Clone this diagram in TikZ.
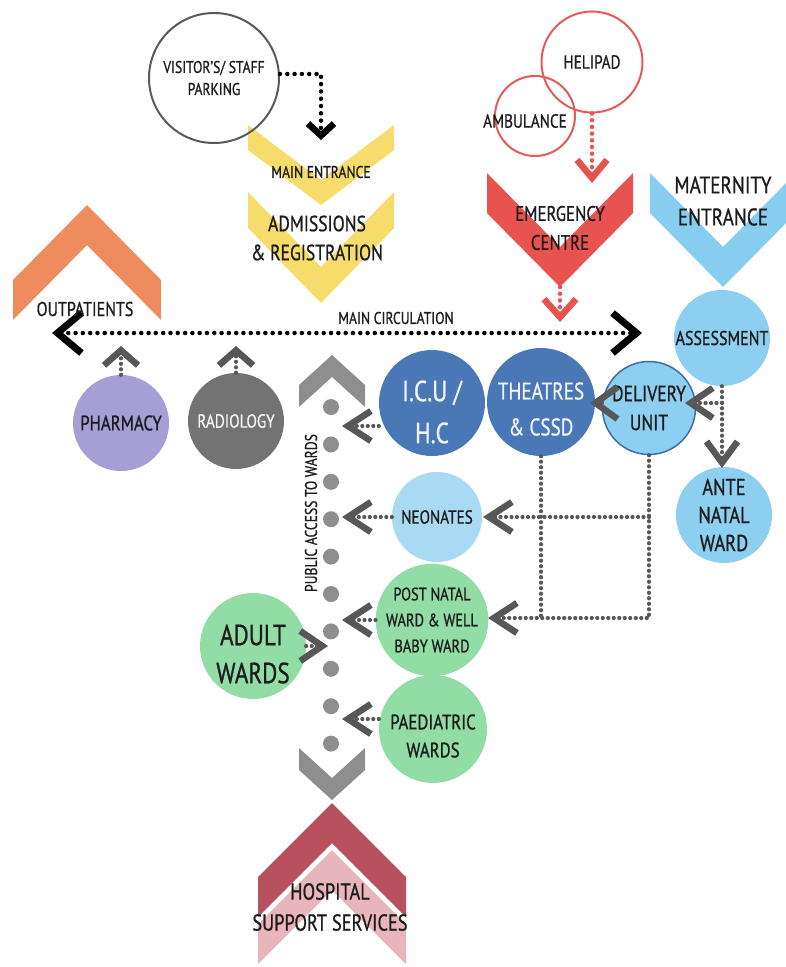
\documentclass[tikz,border=0pt]{standalone}
\usepackage{fontspec}
\setmainfont{PT Sans}[FakeStretch=0.8,FakeBold=0.8]
\usetikzlibrary{arrows.meta}

\definecolor{ink}{HTML}{1C1C1C}
\definecolor{sunyellow}{HTML}{F6DC6A}
\definecolor{outorange}{HTML}{EE8C5E}
\definecolor{emred}{HTML}{E8524F}
\definecolor{ringred}{HTML}{E25A5A}
\definecolor{matblue}{HTML}{86CDEF}
\definecolor{skyblue}{HTML}{8CCFF0}
\definecolor{paleblue}{HTML}{A8DAF4}
\definecolor{deepblue}{HTML}{4A78B7}
\definecolor{rimblue}{HTML}{3D6FA6}
\definecolor{mint}{HTML}{92DCA5}
\definecolor{lilac}{HTML}{A59FD6}
\definecolor{slate}{HTML}{737373}
\definecolor{pathgray}{HTML}{8E8E8E}
\definecolor{linkgray}{HTML}{575757}
\definecolor{wine}{HTML}{B6505D}
\definecolor{blush}{HTML}{E7B5BB}
\definecolor{ringgray}{HTML}{5A5A5A}
\definecolor{softwhite}{HTML}{F2F4F8}

\newcommand{\fsz}[2]{\fontsize{#1}{#2}\selectfont}
% chevron band: centre x, y of the side edges, half width, notch depth, thickness
\newcommand{\chev}[5]{({#1-#3},{#2}) -- ({#1},{#2+(#4)}) -- ({#1+#3},{#2})
  -- ({#1+#3},{#2+(#5)}) -- ({#1},{#2+(#4)+(#5)}) -- ({#1-#3},{#2+(#5)}) -- cycle}

\begin{document}
\begin{tikzpicture}[x=1pt,y=-1pt,
  lbl/.style={align=center, inner sep=0pt, text=ink},
  disc/.style={circle, fill=#1, inner sep=0pt, align=center, text=ink},
  ring/.style={circle, draw=#1, line width=2pt, inner sep=0pt, align=center, text=ink},
  dotk/.style={draw=black, line width=4.5pt, line cap=round, dash pattern=on 0pt off 7.3pt},
  dotr/.style={draw=emred, line width=4.5pt, line cap=round, dash pattern=on 0pt off 6.7pt},
  dotg/.style={draw=linkgray, line width=4.2pt, line cap=round, dash pattern=on 0pt off 5.5pt},
  head/.style 2 args={>={Straight Barb[sharp,length=#1,width=#2,line width=6.5pt]}},
]
\clip (0,0) rectangle (786,967);

% entrance chevrons
\fill[sunyellow] \chev{321}{125}{73}{55}{25};
\fill[sunyellow] \chev{321}{192}{73}{75}{36};
\fill[emred] \chev{560}{173}{73}{74}{40};
\fill[matblue] \chev{723}{173}{73}{74}{40};
\fill[outorange] \chev{87}{320}{74}{-75}{-40};

% public access spine
\fill[pathgray] \chev{332}{407}{33}{-30}{-22};
\fill[pathgray] \chev{332}{748}{33}{30}{22};
\foreach \i in {0,...,9}
  \fill[pathgray] (331,{407+37.4*\i}) circle[radius=8pt];

% support services chevrons
\fill[blush] \chev{332}{964}{74}{-74}{-40};
\fill[wine] \chev{332}{917}{74}{-74}{-40};

% rings
\node[ring=ringgray, minimum size=130pt, font=\fsz{17}{22}] (park) at (214,78) {VISITOR’S/ STAFF\\PARKING};
\node[ring=ringred, minimum size=80pt] (amb) at (535,116) {};
\node[ring=ringred, minimum size=101pt, font=\fsz{19}{24}] (heli) at (592,62) {HELIPAD};

% departments
\node[disc=lilac, minimum size=96pt, font=\fsz{21}{27}] (pharm) at (121,423) {PHARMACY};
\node[disc=slate, minimum size=96pt, font=\fsz{19}{25}, text=softwhite] (radio) at (236,421) {RADIOLOGY};
\node[disc=deepblue, minimum size=106pt] (icu) at (432,403) {};
\node[disc=deepblue, minimum size=108pt] (thea) at (541,402) {};
\node[disc=skyblue, draw=rimblue, line width=1.5pt, minimum size=93pt, font=\fsz{22}{29}] (deliv) at (649,408) {DELIVERY\\UNIT};
\node[disc=skyblue, minimum size=96pt, font=\fsz{20}{26}] (assess) at (722,338) {ASSESSMENT};
\node[disc=skyblue, minimum size=96pt, font=\fsz{23}{28}] (ante) at (724,515) {ANTE\\NATAL\\WARD};
\node[disc=paleblue, minimum size=90pt, font=\fsz{19}{25}] (neo) at (437,517) {NEONATES};
\node[disc=mint, minimum size=108pt, font=\fsz{18}{26}] (pn) at (432,620) {POST NATAL\\WARD \& WELL\\BABY WARD};
\node[disc=mint, minimum size=106pt] (adult) at (253,646) {};
\node[disc=mint, minimum size=108pt] (paed) at (433,729) {};

% connector ends
\coordinate (me-in) at (321,140);
\coordinate (em-in) at (592,183);
\coordinate (em-out) at (560,287);
\coordinate (mc-em) at (560,322);
\coordinate (mc-l) at (52,333);
\coordinate (mc-r) at (642,333);
\coordinate (ph-up) at (121,346);
\coordinate (rd-up) at (236,346);
\coordinate (pa-icu) at (342,426);
\coordinate (pa-neo) at (342,517);
\coordinate (pa-pn) at (342,620);
\coordinate (pa-ad) at (328,646);
\coordinate (pa-pd) at (342,719);
\coordinate (th-in) at (590,403);
\coordinate (dl-in) at (685,403);
\coordinate (an-in) at (722,468);
\coordinate (neo-in) at (483,517);
\coordinate (pn-in) at (488,618);

% connectors
\draw[dotk, head={12pt}{26pt}, ->] ([yshift=4pt]park.east) -| (me-in);
\draw[dotr, head={18pt}{30pt}, ->] (heli.south) -- (em-in);
\draw[dotr, head={18pt}{32pt}, ->] (em-out) -- (mc-em);
\draw[dotk, >={Straight Barb[sharp,length=24pt,width=40pt,line width=7pt]}, <->] (mc-l) -- (mc-r);
\draw[dotg, head={15pt}{34pt}, ->] (pharm.north) -- (ph-up);
\draw[dotg, head={15pt}{34pt}, ->] (radio.north) -- (rd-up);
\draw[dotg, head={23pt}{30pt}, ->] (icu.west |- pa-icu) -- (pa-icu);
\draw[dotg, head={22pt}{32pt}, ->] (deliv.west |- th-in) -- (th-in);
\draw[dotg, head={22pt}{30pt}, ->] (assess.south |- dl-in) -- (dl-in);
\draw[dotg, head={21pt}{31pt}, ->] (assess.south) -- (an-in);
\draw[dotg] (thea.south) -- (thea.south |- pn-in);
\draw[dotg, head={23pt}{30pt}, ->] (deliv.south) -- (deliv.south |- pn-in) -- (pn-in);
\draw[dotg, head={23pt}{30pt}, ->] (deliv.south |- neo-in) -- (neo-in);
\draw[dotg, head={23pt}{30pt}, ->] (neo.west) -- (pa-neo);
\draw[dotg, head={23pt}{30pt}, ->] (pn.west) -- (pa-pn);
\draw[dotg, head={22pt}{30pt}, ->] (adult.east) -- (pa-ad);
\draw[dotg, head={23pt}{30pt}, ->] (paed.west |- pa-pd) -- (pa-pd);

% labels
\node[lbl, font=\fsz{19}{24}] (amb-t) at (525,121) {AMBULANCE};
\node[lbl, font=\fsz{17}{22}] (me-t) at (321,172) {MAIN ENTRANCE};
\node[lbl, font=\fsz{22}{29}] (adm-t) at (317,238) {ADMISSIONS\\\& REGISTRATION};
\node[lbl, font=\fsz{21}{29}] (em-t) at (560,228) {EMERGENCY\\CENTRE};
\node[lbl, font=\fsz{24}{32}] (mat-t) at (723,201) {MATERNITY\\ENTRANCE};
\node[lbl, font=\fsz{20}{26}] (out-t) at (85,309) {OUTPATIENTS};
\node[lbl, font=\fsz{17}{22}] (mc-t) at (396,318) {MAIN CIRCULATION};
\node[lbl, font=\fsz{17}{20}, rotate=90] (pub-t) at (311,513) {PUBLIC ACCESS TO WARDS};
\node[lbl, font=\fsz{29}{42}, text=softwhite] (icu-t) at (432,412) {I.C.U /\\H.C};
\node[lbl, font=\fsz{24}{36}, text=softwhite] (thea-t) at (541,409) {THEATRES\\\& CSSD};
\node[lbl, font=\fsz{29}{38}] (adult-t) at (253,654) {ADULT\\WARDS};
\node[lbl, font=\fsz{21}{28}] (paed-t) at (433,736) {PAEDIATRIC\\WARDS};
\node[lbl, font=\fsz{23}{31}] (hss-t) at (330,907) {HOSPITAL\\SUPPORT SERVICES};
\end{tikzpicture}
\end{document}
